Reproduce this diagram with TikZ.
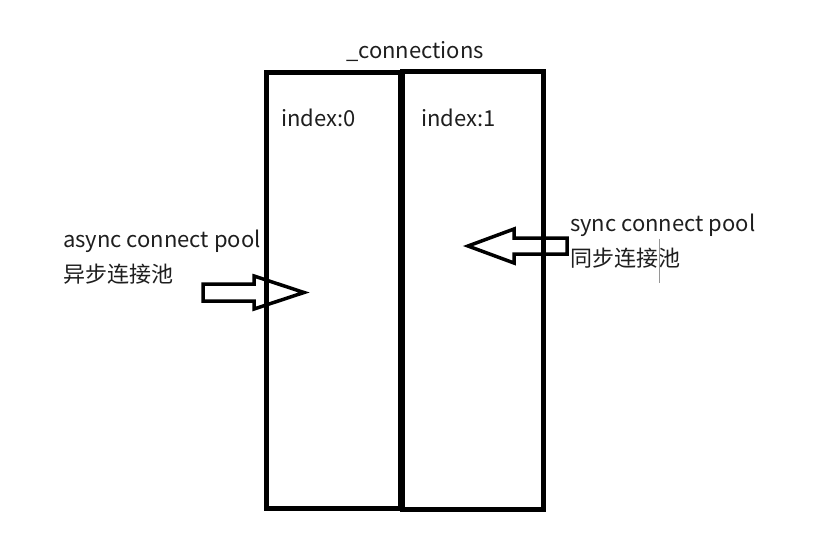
\documentclass[tikz,border=0pt]{standalone}
\usepackage{fontspec}
\setmainfont{Noto Sans CJK SC}
\definecolor{ink}{RGB}{0,0,0}
\definecolor{txt}{RGB}{30,30,30}
\definecolor{caret}{RGB}{150,150,150}
\usetikzlibrary{positioning}
\tikzset{
  slot/.style={draw=ink, line width=5pt, inner sep=0pt, fill=none},
  note/.style={text=txt, inner sep=0pt, anchor=base west,
               font=\fontsize{22}{26}\selectfont},
  pointer/.style={draw=ink, line width=3.5pt, line join=miter},
}

\begin{document}
\begin{tikzpicture}[x=1pt, y=-1pt]
        \useasboundingbox (0,0) rectangle (839,547);

        % the two pool slots
        \node[slot, minimum width=133.5pt, minimum height=436pt] (slot0) at (333.25,290) {};
        \node[slot, minimum width=141pt, minimum height=438pt] (slot1) at (472.5,290) {};

        \node[note] (title) at (346,58) {\_connections};
        \node[note] (idx0) at (281,126) {index:0};
        \node[note] (idx1) at (421,126) {index:1};

        % async side
        \node[note] (asynctxt) at (63,247) {async connect pool};
        \node[note] (asynccn) at (63,282) {异步连接池};
        \coordinate (asynctail) at (203,292.5);
        \draw[pointer] (asynctail) ++(0,-8.5) -- ++(51,0) -- ++(0,-8)
          -- ++(50,16.5) -- ++(-50,16.5) -- ++(0,-8) -- ++(-51,0) -- cycle;

        % sync side
        \node[note] (synctxt) at (570,231) {sync connect pool};
        \node[note] (synccn) at (570,266) {同步连接池};
        \coordinate (synctail) at (567,246);
        \draw[pointer] (synctail) ++(0,-8) -- ++(-53,0) -- ++(0,-9)
          -- ++(-46,17) -- ++(46,17) -- ++(0,-9) -- ++(53,0) -- cycle;

        \draw[caret, line width=0.8pt] (659.5,239) -- (659.5,283);
      \end{tikzpicture}
\end{document}
